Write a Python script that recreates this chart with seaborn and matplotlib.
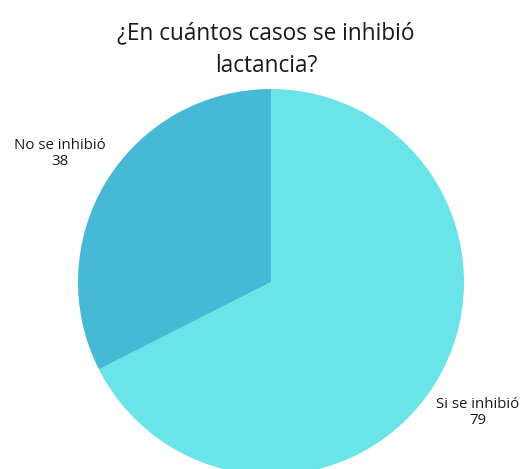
import matplotlib
matplotlib.use("Agg")
import matplotlib.pyplot as plt
import seaborn as sns

categories = ["Si se inhibió", "No se inhibió"]
counts = [79, 38]
colors = ["#6AE4E8", "#45B9D6"]
title = "¿En cuántos casos se inhibió\nlactancia?"

sns.set_theme(style="white")
plt.rcParams["font.family"] = ["Open Sans", "DejaVu Sans"]

W, H = 523, 469
fig = plt.figure(figsize=(W / 100, H / 100), dpi=100)
cx, cy, r = 271, 282, 193
ax = fig.add_axes([(cx - r) / W, (H - cy - r) / H, 2 * r / W, 2 * r / H])

wedges, texts = ax.pie(
    counts,
    colors=colors,
    startangle=90,
    counterclock=False,
    labels=[f"{c}\n{v}" for c, v in zip(categories, counts)],
    wedgeprops=dict(linewidth=0),
    textprops=dict(fontsize=10.8, color="#1a1a1a"),
)
ax.set_xlim(-1, 1)
ax.set_ylim(-1, 1)
ax.set_aspect("equal")

label_pos = [(1.073, -0.675), (-1.093, 0.668)]
for t, p in zip(texts, label_pos):
    t.set_position(p)
    t.set_ha("center")
    t.set_va("center")
    t.set_multialignment("center")
    t.set_linespacing(1.1)

fig.text(0.509, 0.894, title, ha="center", va="center", fontsize=16.3,
         color="#1a1a1a", linespacing=1.5)

fig.savefig("out.png", dpi=100)
